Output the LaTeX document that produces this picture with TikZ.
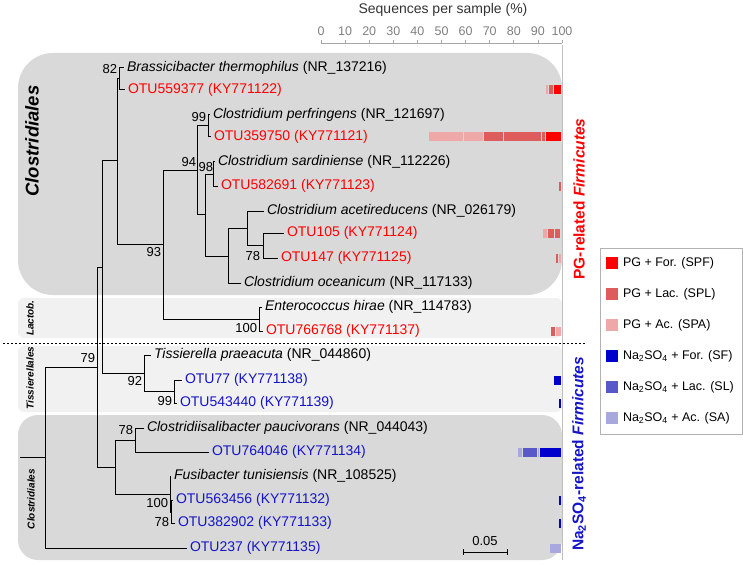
\documentclass[tikz,border=0pt]{standalone}
\usepackage{fontspec}
\setmainfont{Liberation Sans}
\usetikzlibrary{positioning}

\definecolor{spf}{RGB}{255,0,0}
\definecolor{spl}{RGB}{222,92,92}
\definecolor{spa}{RGB}{238,168,168}
\definecolor{sf}{RGB}{0,0,204}
\definecolor{sl}{RGB}{88,88,200}
\definecolor{sa}{RGB}{168,168,220}
\definecolor{otured}{RGB}{255,0,0}
\definecolor{otublue}{RGB}{20,20,200}
\definecolor{boxdark}{RGB}{217,217,217}
\definecolor{boxlight}{RGB}{241,241,241}

\begin{document}
\begin{tikzpicture}[x=1pt, y=-1pt,
    every node/.style = {inner sep=0pt, outer sep=0pt},
    leaf/.style    = {anchor=west, inner xsep=3pt, font=\fontsize{14}{16}\selectfont},
    refseq/.style  = {leaf, text=black},
    pgotu/.style   = {leaf, text=otured},
    naotu/.style   = {leaf, text=otublue},
    boot/.style    = {font=\fontsize{13}{14}\selectfont},
    branch/.style  = {line width=1pt},
    order/.style   = {rotate=90, font=\bfseries\itshape\fontsize{10}{11}\selectfont},
    group/.style   = {rotate=90, font=\bfseries\fontsize{15.5}{17}\selectfont},
    legsq/.style   = {minimum size=12pt},
    legtxt/.style  = {font=\fontsize{12.5}{14}\selectfont},
    axis/.style    = {gray!70, line width=0.8pt},
    %bar/.style = {draw=white, line width=0.5pt},
  ]
  \useasboundingbox (0,0) rectangle (743,564);

  % shaded order boxes
  \fill[boxdark, rounded corners=35pt] (18,53) rectangle (562,295);
  \fill[boxlight, rounded corners=6pt] (18,298) rectangle (562,338);
  \fill[boxlight, rounded corners=6pt] (18,346) rectangle (562,412);
  \fill[boxdark, rounded corners=20pt] (18,415) rectangle (562,560);
  \draw[gray!50, line width=0.6pt] (562,45) -- (562,560);
  \draw[line width=0.8pt, dash pattern=on 2pt off 2pt] (3,343) -- (585,343);

  \node[rotate=90, font=\bfseries\itshape\fontsize{18.5}{20}\selectfont] (clo1) at (32,141) {Clostridiales};
  \node[order] (lac) at (30,318) {Lactob.};
  \node[order] (tiss) at (30,378) {Tissierellales};
  \node[order] (clo2) at (31,499) {Clostridiales};

  % leaves
  \node[refseq] (bra)  at (124,68)  {\textit{Brassicibacter thermophilus} (NR\_137216)};
  \node[pgotu]  (o559) at (125,90)  {OTU559377 (KY771122)};
  \node[refseq] (per)  at (210,115) {\textit{Clostridium perfringens} (NR\_121697)};
  \node[pgotu]  (o359) at (211,137) {OTU359750 (KY771121)};
  \node[refseq] (sar)  at (215,162) {\textit{Clostridium sardiniense} (NR\_112226)};
  \node[pgotu]  (o582) at (218,186) {OTU582691 (KY771123)};
  \node[refseq] (ace)  at (264,211) {\textit{Clostridium acetireducens} (NR\_026179)};
  \node[pgotu]  (o105) at (284,233) {OTU105 (KY771124)};
  \node[pgotu]  (o147) at (278,258) {OTU147 (KY771125)};
  \node[refseq] (oce)  at (241,283) {\textit{Clostridium oceanicum} (NR\_117133)};
  \node[refseq] (ent)  at (262,307) {\textit{Enterococcus hirae} (NR\_114783)};
  \node[pgotu]  (o766) at (263,331) {OTU766768 (KY771137)};
  \node[refseq] (tis)  at (151,355) {\textit{Tissierella praeacuta} (NR\_044860)};
  \node[naotu]  (o77)  at (182,380) {OTU77 (KY771138)};
  \node[naotu]  (o543) at (177,403) {OTU543440 (KY771139)};
  \node[refseq] (csa)  at (144,428) {\textit{Clostridiisalibacter paucivorans} (NR\_044043)};
  \node[naotu]  (o764) at (209,452) {OTU764046 (KY771134)};
  \node[refseq] (fus)  at (171,476) {\textit{Fusibacter tunisiensis} (NR\_108525)};
  \node[naotu]  (o563) at (173,500) {OTU563456 (KY771132)};
  \node[naotu]  (o382) at (175,523) {OTU382902 (KY771133)};
  \node[naotu]  (o237) at (187,548) {OTU237 (KY771135)};

  % inner nodes of the tree
  \coordinate (base)  at (20,457);
  \coordinate (root)  at (45,457);
  \coordinate (nA)    at (97,367);
  \coordinate (nB)    at (102,267);
  \coordinate (nC)    at (117,161);
  \coordinate (n82)   at (119,79);
  \coordinate (n93)   at (163,244);
  \coordinate (n94)   at (197,170);
  \coordinate (n99a)  at (208,126);
  \coordinate (nX)    at (205,214);
  \coordinate (n98)   at (213,174);
  \coordinate (nY)    at (228,256);
  \coordinate (nZ)    at (247,228);
  \coordinate (n78a)  at (263,245);
  \coordinate (n100a) at (259,319);
  \coordinate (nT)    at (144,373);
  \coordinate (n99b)  at (174,391);
  \coordinate (nD)    at (115,467);
  \coordinate (n78b)  at (135,440);
  \coordinate (n100b) at (170,494);
  \coordinate (n78c)  at (171,512);

  \draw[branch] (base) -- (root);
  \foreach \p/\c in {root/nA, root/o237.west, nA/nB, nA/nD, nB/nC, nB/nT,
                     nC/n82, nC/n93, n82/bra.west, n82/o559.west,
                     n93/n94, n93/n100a, n94/n99a, n94/nX,
                     n99a/per.west, n99a/o359.west, nX/n98, nX/nY,
                     n98/sar.west, n98/o582.west, nY/nZ, nY/oce.west,
                     nZ/ace.west, nZ/n78a, n78a/o105.west, n78a/o147.west,
                     n100a/ent.west, n100a/o766.west,
                     nT/tis.west, nT/n99b, n99b/o77.west, n99b/o543.west,
                     nD/n78b, nD/n100b, n78b/csa.west, n78b/o764.west,
                     n100b/fus.west, n100b/n78c, n78c/o563.west, n78c/o382.west}
    \draw[branch] (\p) |- (\c);

  % bootstrap values
  \node[boot, anchor=east]       (b82)   at (117,69)  {82};
  \node[boot, anchor=south east] (b79)  at (95,363)  {79};
  \node[boot, anchor=north east] (b93)  at (161,247) {93};
  \node[boot, anchor=south east] (b94)  at (196,167) {94};
  \node[boot, anchor=east]       (b99a) at (206,117) {99};
  \node[boot, anchor=south east] (b98)  at (213,172) {98};
  \node[boot, anchor=east]       (b78a) at (260,256) {78};
  \node[boot, anchor=east]       (b100a) at (257,328) {100};
  \node[boot, anchor=north east] (b92)  at (142,376) {92};
  \node[boot, anchor=east]       (b99b) at (172,401) {99};
  \node[boot, anchor=east]       (b78b) at (133,430) {78};
  \node[boot, anchor=east]       (b100b) at (168,503) {100};
  \node[boot, anchor=east]       (b78c) at (169,522) {78};

  % scale bar
  \coordinate (sbl) at (463,552);
  \coordinate (sbr) at (507,552);
  \draw[line width=0.8pt] (sbl) -- (sbr);
  \draw[line width=0.8pt] (463,549) -- (463,555) (507,549) -- (507,555);
  \node[boot] (sblab) at (485,541) {0.05};

  % axis for the bars
  \node[font=\fontsize{14}{16}\selectfont, text=black!80] (ttl) at (443,10) {Sequences per sample (\%)};
  \draw[axis] (321,43) -- (562,43);
  \foreach \i in {0,...,10} {
    \pgfmathtruncatemacro\v{\i*10}
    \draw[axis] ({321+\i*24.1},43) -- ({321+\i*24.1},40);
    \node[font=\fontsize{12.5}{14}\selectfont, text=gray] (tk\i) at ({321+\i*24.1},31) {\v};
  }

  % stacked bars, one row per OTU
  \foreach \y/\a/\b/\c in {90/546/549/spa, 90/549/554/spl, 90/554/562/spf,
                           137/429/464/spa, 137/464/484/spa, 137/484/504/spl, 137/504/542/spl, 137/542/546/spl, 137/546/562/spf,
                           186/559/562/spl,
                           233/543/548/spa, 233/548/555/spl, 233/555/561/spl,
                           258/556/559/spl, 258/559/562/spa,
                           331/551/556/spl, 331/556/562/spa,
                           380/554/562/sf, 403/559/562/sf,
                           452/518/523/sa, 452/523/538/sl, 452/538/540/sa, 452/540/562/sf,
                           500/559/562/sf, 523/559/562/sf, 548/550/562/sa}
    \fill[\c] (\a,\y-4.5) rectangle ({\b-0.8},\y+4.5);

  \node[group, text=otured] (pglab) at (579,199) {PG-related \textit{Firmicutes}};
  \node[group, text=otublue] (nalab) at (579,454) {Na\textsubscript{2}SO\textsubscript{4}-related \textit{Firmicutes}};

  % legend
  \node[draw=gray!60, line width=0.6pt, fill=white, minimum width=142pt, minimum height=186pt] (legend) at (671,341) {};
  \foreach \i/\c/\t in {1/spf/{PG + For. (SPF)}, 2/spl/{PG + Lac. (SPL)}, 3/spa/{PG + Ac. (SPA)},
                        4/sf/{Na\textsubscript{2}SO\textsubscript{4} + For. (SF)},
                        5/sl/{Na\textsubscript{2}SO\textsubscript{4} + Lac. (SL)},
                        6/sa/{Na\textsubscript{2}SO\textsubscript{4} + Ac. (SA)}} {
    \node[legsq, fill=\c] (k\i) at (612,{263+(\i-1)*31}) {};
    \node[legtxt, right=5pt of k\i] (lt\i) {\t};
  } % end of legend entries
\end{tikzpicture}
\end{document}
